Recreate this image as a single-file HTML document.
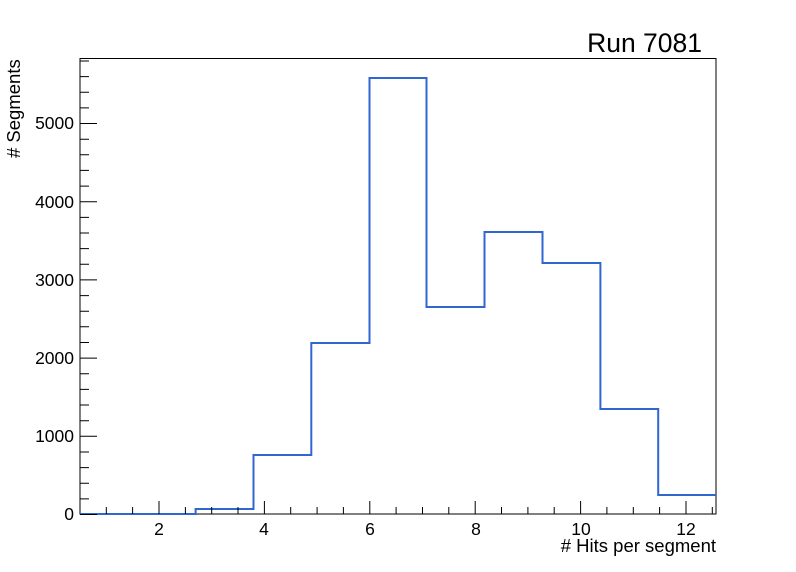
<!DOCTYPE html>
<html><head><style>body{margin:0;background:#fff}svg{display:block}</style></head><body>
<svg width="796" height="572" xmlns="http://www.w3.org/2000/svg" font-family="Liberation Sans, sans-serif">
<rect width="796" height="572" fill="#fff"/>
<g stroke="#000" stroke-width="1" fill="none">
<rect x="80" y="58.5" width="636" height="455.5"/>
</g>
<path fill="none" stroke="#2f66d0" stroke-width="2" d="M80,514 H195.6 V509 H253.5 V455 H311.3 V343 H369.5 V78 H426.5 V307 H484.5 V232 H542.5 V263 H600.4 V409 H658.2 V495 H716"/>
<g font-size="17.5" text-anchor="end">
<text x="74" y="520">0</text><text x="74" y="442">1000</text><text x="74" y="364">2000</text><text x="74" y="286">3000</text><text x="74" y="208">4000</text><text x="74" y="129">5000</text>
</g>
<g font-size="17.5" text-anchor="middle">
<text x="159" y="535">2</text><text x="264" y="535">4</text><text x="370" y="535">6</text><text x="476" y="535">8</text><text x="581" y="535">10</text><text x="686" y="535">12</text>
</g>
<text x="716" y="552" font-size="18.5" text-anchor="end"># Hits per segment</text>
<text transform="translate(20,158) rotate(-90)" font-size="18.5"># Segments</text>
<text x="702" y="52" font-size="26.5" text-anchor="end">Run 7081</text>
<g stroke="#000" stroke-width="1">
<path d="M80,514.5h17M80,436.3h17M80,358.1h17M80,279.9h17M80,201.7h17M80,123.5h17
M80,498.9h9M80,483.2h9M80,467.6h9M80,452h9M80,420.7h9M80,405h9M80,389.4h9M80,373.8h9M80,342.5h9M80,326.8h9M80,311.2h9M80,295.6h9M80,264.3h9M80,248.6h9M80,233h9M80,217.4h9M80,186.1h9M80,170.4h9M80,154.8h9M80,139.2h9M80,107.9h9M80,92.2h9M80,76.6h9M80,61h9"/>
<path d="M159,514v-13M264.4,514v-13M369.8,514v-13M475.2,514v-13M580.6,514v-13M686,514v-13
M106.3,514v-7M132.6,514v-7M185.4,514v-7M211.7,514v-7M238,514v-7M290.7,514v-7M317.1,514v-7M343.4,514v-7M396.1,514v-7M422.5,514v-7M448.8,514v-7M501.5,514v-7M527.9,514v-7M554.2,514v-7M606.9,514v-7M633.3,514v-7M659.6,514v-7M712.3,514v-7"/>
</g>
</svg>
</body></html>
